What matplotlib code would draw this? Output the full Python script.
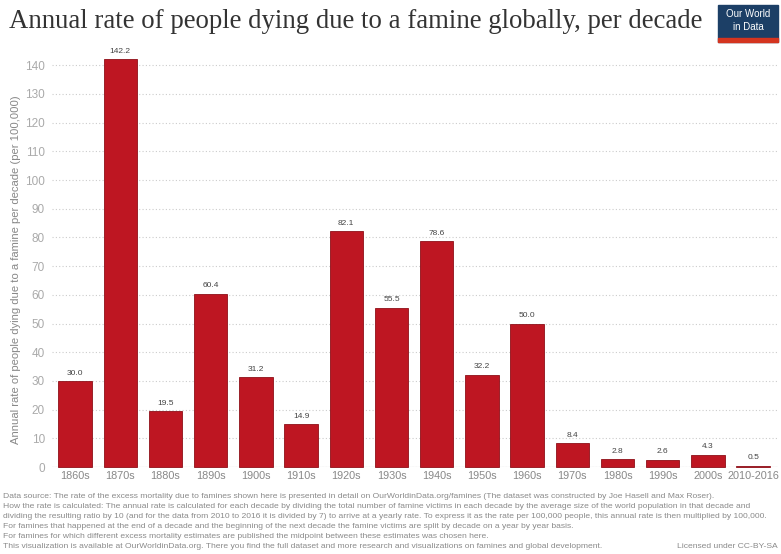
import matplotlib
matplotlib.use("Agg")
import matplotlib.pyplot as plt
from matplotlib.patches import Rectangle

categories = ["1860s", "1870s", "1880s", "1890s", "1900s", "1910s", "1920s", "1930s",
              "1940s", "1950s", "1960s", "1970s", "1980s", "1990s", "2000s", "2010-2016"]
values = [30.0, 142.2, 19.5, 60.4, 31.2, 14.9, 82.1, 55.5,
          78.6, 32.2, 50.0, 8.4, 2.8, 2.6, 4.3, 0.5]
yticks = list(range(0, 141, 10))

title = "Annual rate of people dying due to a famine globally, per decade"
ylabel = "Annual rate of people dying due to a famine per decade (per 100,000)"
footer = [
    "Data source: The rate of the excess mortality due to famines shown here is presented in detail on OurWorldinData.org/famines (The dataset was constructed by Joe Hasell and Max Roser).",
    "How the rate is calculated: The annual rate is calculated for each decade by dividing the total number of famine victims in each decade by the average size of the world population in that decade and",
    "dividing the resulting ratio by 10 (and for the data from 2010 to 2016 it is divided by 7) to arrive at a yearly rate. To express it as the rate per 100,000 people, this annual rate is then multiplied by 100,000.",
    "For famines that happened at the end of a decade and the beginning of the next decade the famine victims are split by decade on a year by year basis.",
    "For famines for which different excess mortality estimates are published the midpoint between these estimates was chosen here.",
    "This visualization is available at OurWorldinData.org. There you find the full dataset and more research and visualizations on famines and global development.",
]
license_text = "Licensed under CC-BY-SA"

W, H = 781, 554
fig = plt.figure(figsize=(W / 100, H / 100), dpi=100)
plt.rcParams['font.family'] = ['Liberation Sans', 'DejaVu Sans']

ax = fig.add_axes([52 / W, 87 / H, (778 - 52) / W, (467 - 48) / H])
x = list(range(len(categories)))
ax.bar(x, values, width=0.74, color="#be1622", edgecolor="#8e0f18",
       linewidth=0.6, zorder=3, clip_on=False)
for xi, v in zip(x, values):
    ax.text(xi, v + 1.5, f"{v:.1f}", ha="center", va="bottom", fontsize=6,
            color="#444444", zorder=4)

ax.set_xlim(-0.51, 15.55)
ax.set_ylim(0, 146)
ax.set_yticks(yticks)
ax.set_xticks(x)
ax.set_xticklabels(categories, fontsize=7.8, color="#888888")
ax.tick_params(axis="y", length=0, pad=5, labelsize=8.5, labelcolor="#aaaaaa")
ax.tick_params(axis="x", length=0, pad=3)
ax.grid(axis="y", color="#cccccc", linestyle=(0, (1, 2)), linewidth=0.8, zorder=0)
for s in ax.spines.values():
    s.set_visible(False)
ax.axhline(0, color="#bbbbbb", linewidth=0.8, zorder=2)
ax.set_ylabel(ylabel, fontsize=8.1, color="#888888")
ax.yaxis.set_label_coords((21 - 52) / (778 - 52), (467 - 270) / (467 - 48))

fig.text(9 / W, 1 - 22 / H, title, fontsize=19.3, family="Liberation Serif",
         color="#333333", va="center", ha="left")

# logo
fig.patches.append(Rectangle((718 / W, 1 - 42 / H), 60 / W, 37 / H,
                             transform=fig.transFigure, color="#1c3f66", zorder=5))
fig.patches.append(Rectangle((718 / W, 1 - 42 / H), 60 / W, 4 / H,
                             transform=fig.transFigure, color="#d4341f", zorder=6))
fig.text(748 / W, 1 - 14 / H, "Our World", fontsize=7, color="white",
         ha="center", va="center", zorder=7)
fig.text(748 / W, 1 - 27 / H, "in Data", fontsize=7, color="white",
         ha="center", va="center", zorder=7)

for i, line in enumerate(footer):
    fig.text(3 / W, 1 - (496 + 10 * i) / H, line, fontsize=6.1, color="#8a8a8a",
             ha="left", va="center")
fig.text(778 / W, 1 - 546 / H, license_text, fontsize=6.1, color="#8a8a8a",
         ha="right", va="center")

fig.savefig("out.png", dpi=100)
